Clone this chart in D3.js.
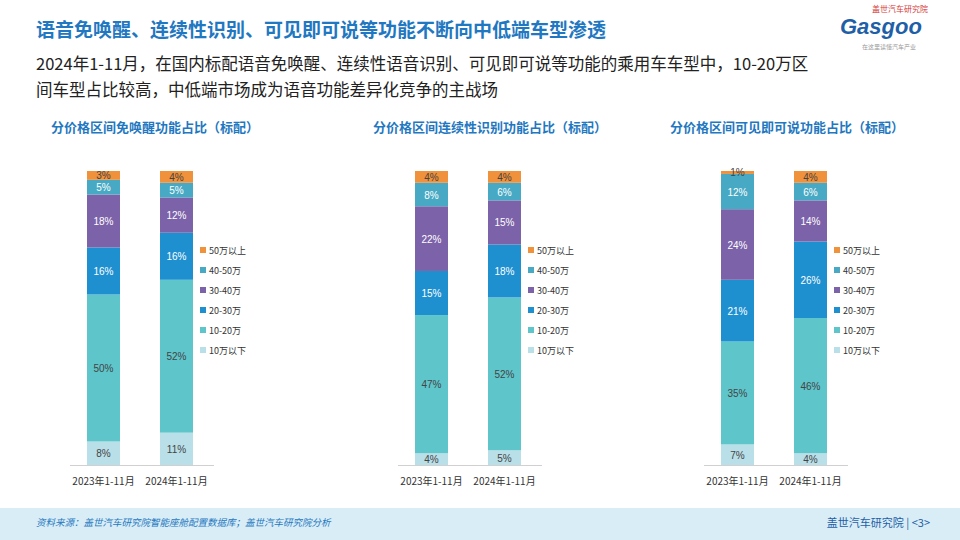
<!DOCTYPE html>
<html><head><meta charset="utf-8">
<script src="https://cdn.jsdelivr.net/npm/d3@7"></script>
<style>body{margin:0;background:#fff;font-family:"Noto Sans CJK SC","Microsoft YaHei",sans-serif}</style>
</head><body><svg id="c" width="960" height="540"></svg>
<script>
const segments = ["10万以下","10-20万","20-30万","30-40万","40-50万","50万以上"];
const colors = ["#b9dfe8","#5ec6cb","#1e90d0","#7c62a8","#47a9c3","#f0913b"];
const labelColors = ["#444","#444","#fff","#fff","#fff","#444"];
const periods = ["2023年1-11月","2024年1-11月"];
const titles = ["分价格区间免唤醒功能占比（标配）","分价格区间连续性识别功能占比（标配）","分价格区间可见即可说功能占比（标配）"];
const wakeFree = [[8,50,16,18,5,3],[11,52,16,12,5,4]];
const continuous = [[4,47,15,22,8,4],[5,52,18,15,6,4]];
const seeSay = [[7,35,21,24,12,1],[4,46,26,14,6,4]];
const panels = [wakeFree, continuous, seeSay];
const panelX = [70, 398, 704];
const titleX = [155, 490, 787];

const svg = d3.select("#c");
svg.append("text").attr("x",36).attr("y",37).attr("fill","#1f78c1").attr("font-size",19).attr("font-weight","bold")
 .text("语音免唤醒、连续性识别、可见即可说等功能不断向中低端车型渗透");
svg.append("text").attr("x",36).attr("y",70).attr("fill","#222").attr("font-size",16.5)
 .text("2024年1-11月，在国内标配语音免唤醒、连续性语音识别、可见即可说等功能的乘用车车型中，10-20万区");
svg.append("text").attr("x",36).attr("y",96).attr("fill","#222").attr("font-size",16.5)
 .text("间车型占比较高，中低端市场成为语音功能差异化竞争的主战场");
// logo
svg.append("text").attr("x",872).attr("y",12).attr("fill","#d63a3a").attr("font-size",8).text("盖世汽车研究院");
svg.append("text").attr("x",840).attr("y",34).attr("fill","#1f5fa8").attr("font-size",22).attr("font-style","italic").attr("font-weight","bold").attr("font-family","Liberation Sans").text("Gasgoo");
svg.append("text").attr("x",862).attr("y",49).attr("fill","#999").attr("font-size",6).text("在这里读懂汽车产业");

panels.forEach((data,pi)=>{
  const g = svg.append("g").attr("transform",`translate(${panelX[pi]},0)`);
  g.append("text").attr("x",titleX[pi]-panelX[pi]).attr("y",132).attr("text-anchor","middle")
   .attr("fill","#1f78c1").attr("font-size",13).attr("font-weight","bold").text(titles[pi]);
  const x = d3.scaleBand().domain(periods).range([0,140]).paddingInner(0.548).paddingOuter(0.233);
  const y = d3.scaleLinear().domain([0,100]).range([465,171]);
  g.append("line").attr("x1",0).attr("x2",144).attr("y1",465.5).attr("y2",465.5).attr("stroke","#d0d0d0");
  data.forEach((vals,bi)=>{
    let acc=0;
    vals.forEach((v,si)=>{
      const y0=y(acc), y1=y(acc+v); acc+=v;
      g.append("rect").attr("x",x(periods[bi])).attr("width",x.bandwidth()).attr("y",y1).attr("height",y0-y1).attr("fill",colors[si]);
      g.append("text").attr("x",x(periods[bi])+x.bandwidth()/2).attr("y",(y0+y1)/2+4).attr("text-anchor","middle")
       .attr("font-size",10).attr("fill",labelColors[si]).attr("font-family","Liberation Sans").text(v+"%");
    });
    g.append("text").attr("x",x(periods[bi])+x.bandwidth()/2).attr("y",485).attr("text-anchor","middle")
     .attr("font-size",10).attr("fill","#333").text(periods[bi]);
  });
  const leg = g.append("g").attr("transform","translate(130,0)");
  segments.slice().reverse().forEach((s,i)=>{
    const si = segments.length-1-i;
    leg.append("rect").attr("x",0).attr("y",247+i*20).attr("width",6).attr("height",6).attr("fill",colors[si]);
    leg.append("text").attr("x",9).attr("y",254+i*20).attr("font-size",9).attr("fill","#333").text(s);
  });
});
svg.append("rect").attr("x",0).attr("y",508).attr("width",960).attr("height",32).attr("fill","#d9edf6");
svg.append("text").attr("x",36).attr("y",526).attr("fill","#1f78c1").attr("font-size",9.5).attr("font-style","italic")
 .text("资料来源：盖世汽车研究院智能座舱配置数据库；盖世汽车研究院分析");
svg.append("text").attr("x",930).attr("y",527).attr("text-anchor","end").attr("fill","#1f5fa8").attr("font-size",11)
 .text("盖世汽车研究院 | <3>");
</script></body></html>
